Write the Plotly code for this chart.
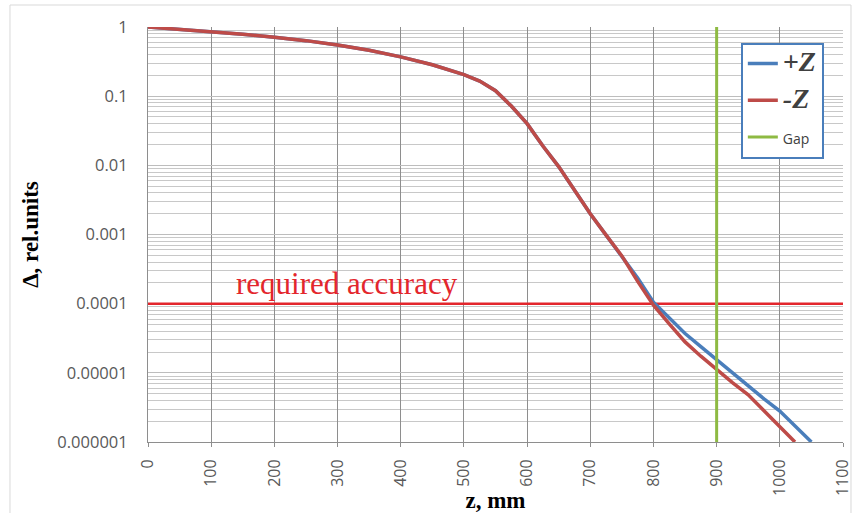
import plotly.graph_objects as go

# Relative deviation along z for both field directions
z_common = [0, 50, 100, 150, 200, 250, 300, 350, 400, 450, 500, 525, 550, 575,
            600, 625, 650, 675, 700, 725, 750]
d_common = [1.0, 0.93, 0.855, 0.785, 0.71, 0.635, 0.55, 0.46, 0.37, 0.285, 0.205,
            0.165, 0.12, 0.072, 0.04, 0.019, 0.0096, 0.0044, 0.002, 0.00098, 0.00049]

z_plus_tail = [775, 800, 825, 850, 875, 900, 925, 950, 975, 1000, 1025, 1050]
d_plus_tail = [0.000235, 0.000105, 0.000063, 0.000037, 0.000024, 0.0000155,
               0.00001, 0.0000063, 0.0000042, 0.0000028, 0.0000017, 0.000001]

z_minus_tail = [775, 800, 825, 850, 875, 900, 925, 950, 975, 1000, 1024]
d_minus_tail = [0.00021, 0.000095, 0.000051, 0.000028, 0.0000174, 0.000011,
                0.0000072, 0.0000048, 0.0000028, 0.0000017, 0.000001]

gap_z = 900
required_accuracy = 1e-4

x_ticks = list(range(0, 1101, 100))
y_tickvals = [1, 0.1, 0.01, 0.001, 0.0001, 0.00001, 0.000001]
y_ticktext = ["1", "0.1", "0.01", "0.001", "0.0001", "0.00001", "0.000001"]

z_plus = z_common + z_plus_tail
d_plus = d_common + d_plus_tail
z_minus = z_common + z_minus_tail
d_minus = d_common + d_minus_tail

BLUE = "#4A7EBB"
RED = "#BE4B48"
GREEN = "#8EBA43"
ACC_RED = "#E3262C"
SERIF = "Liberation Serif"
SANS = "Open Sans"

fig = go.Figure()

# required accuracy level
fig.add_trace(go.Scatter(
    x=[x_ticks[0], x_ticks[-1]], y=[required_accuracy, required_accuracy],
    mode="lines", line=dict(color=ACC_RED, width=2.5),
    showlegend=False, hoverinfo="skip"))

big = "<span style=\"font-size:28px\"><b><i>{}</i></b></span>"
fig.add_trace(go.Scatter(
    x=z_plus, y=d_plus, mode="lines", name=big.format("+Z"),
    legendgroup="a", line=dict(color=BLUE, width=3.5)))
fig.add_trace(go.Scatter(
    x=z_minus, y=d_minus, mode="lines", name=big.format("-Z"),
    legendgroup="b", line=dict(color=RED, width=3.5)))
fig.add_trace(go.Scatter(
    x=[gap_z, gap_z], y=[y_tickvals[-1], y_tickvals[0]], mode="lines",
    name="<span style=\"font-family:'Open Sans';font-size:14px;color:#404040\">Gap</span>",
    legendgroup="c", line=dict(color=GREEN, width=3)))

fig.add_annotation(
    x=315, y=-4, xref="x", yref="y", text="required accuracy",
    showarrow=False, xanchor="center", yanchor="bottom", yshift=1,
    font=dict(family=SERIF, size=31, color=ACC_RED))

# minor log gridlines (2..9 in every decade)
minor_vals = [m * 10.0 ** e for e in range(-6, 0) for m in range(2, 10)]

fig.update_xaxes(
    range=[0, 1100], tickmode="array", tickvals=x_ticks,
    tickangle=-90, tickfont=dict(family=SANS, size=16, color="#595959"),
    showgrid=True, gridcolor="#8E8E8E", gridwidth=1,
    showline=True, linecolor="#8E8E8E", linewidth=1,
    ticks="outside", ticklen=4, tickcolor="#8E8E8E",
    ticklabelstandoff=6, zeroline=False,
    title=dict(text="<b>z, mm</b>", font=dict(family=SERIF, size=23, color="#000000"),
               standoff=4))

fig.update_yaxes(
    type="log", range=[-6, 0], tickmode="array",
    tickvals=y_tickvals, ticktext=y_ticktext,
    tickfont=dict(family=SANS, size=16.5, color="#595959"),
    showgrid=True, gridcolor="#BDBDBD", gridwidth=1,
    minor=dict(tickmode="array", tickvals=minor_vals, showgrid=True,
               gridcolor="#C8C8C8", gridwidth=1, ticks=""),
    showline=True, linecolor="#8E8E8E", linewidth=1,
    ticks="", ticklabelstandoff=16, zeroline=False,
    title=dict(text="<b>Δ, rel.units</b>", font=dict(family=SERIF, size=23, color="#000000"),
               standoff=12))

# light frame around the whole chart
fig.add_shape(type="rect", xref="paper", yref="paper",
              x0=-0.1986, x1=1.0115, y0=-0.19, y1=1.053,
              line=dict(color="#D9D9D9", width=1), fillcolor="rgba(0,0,0,0)",
              layer="below")

fig.update_layout(
    width=856, height=513,
    margin=dict(l=148, r=13, t=27, b=71, autoexpand=False),
    paper_bgcolor="white", plot_bgcolor="white",
    showlegend=True,
    legend=dict(x=0.853, y=0.962, xanchor="left", yanchor="top",
                bgcolor="white", bordercolor=BLUE, borderwidth=2,
                font=dict(family=SERIF, size=19, color="#404040"),
                traceorder="grouped", tracegroupgap=9, itemwidth=30),
)

fig.write_html("out.html")
